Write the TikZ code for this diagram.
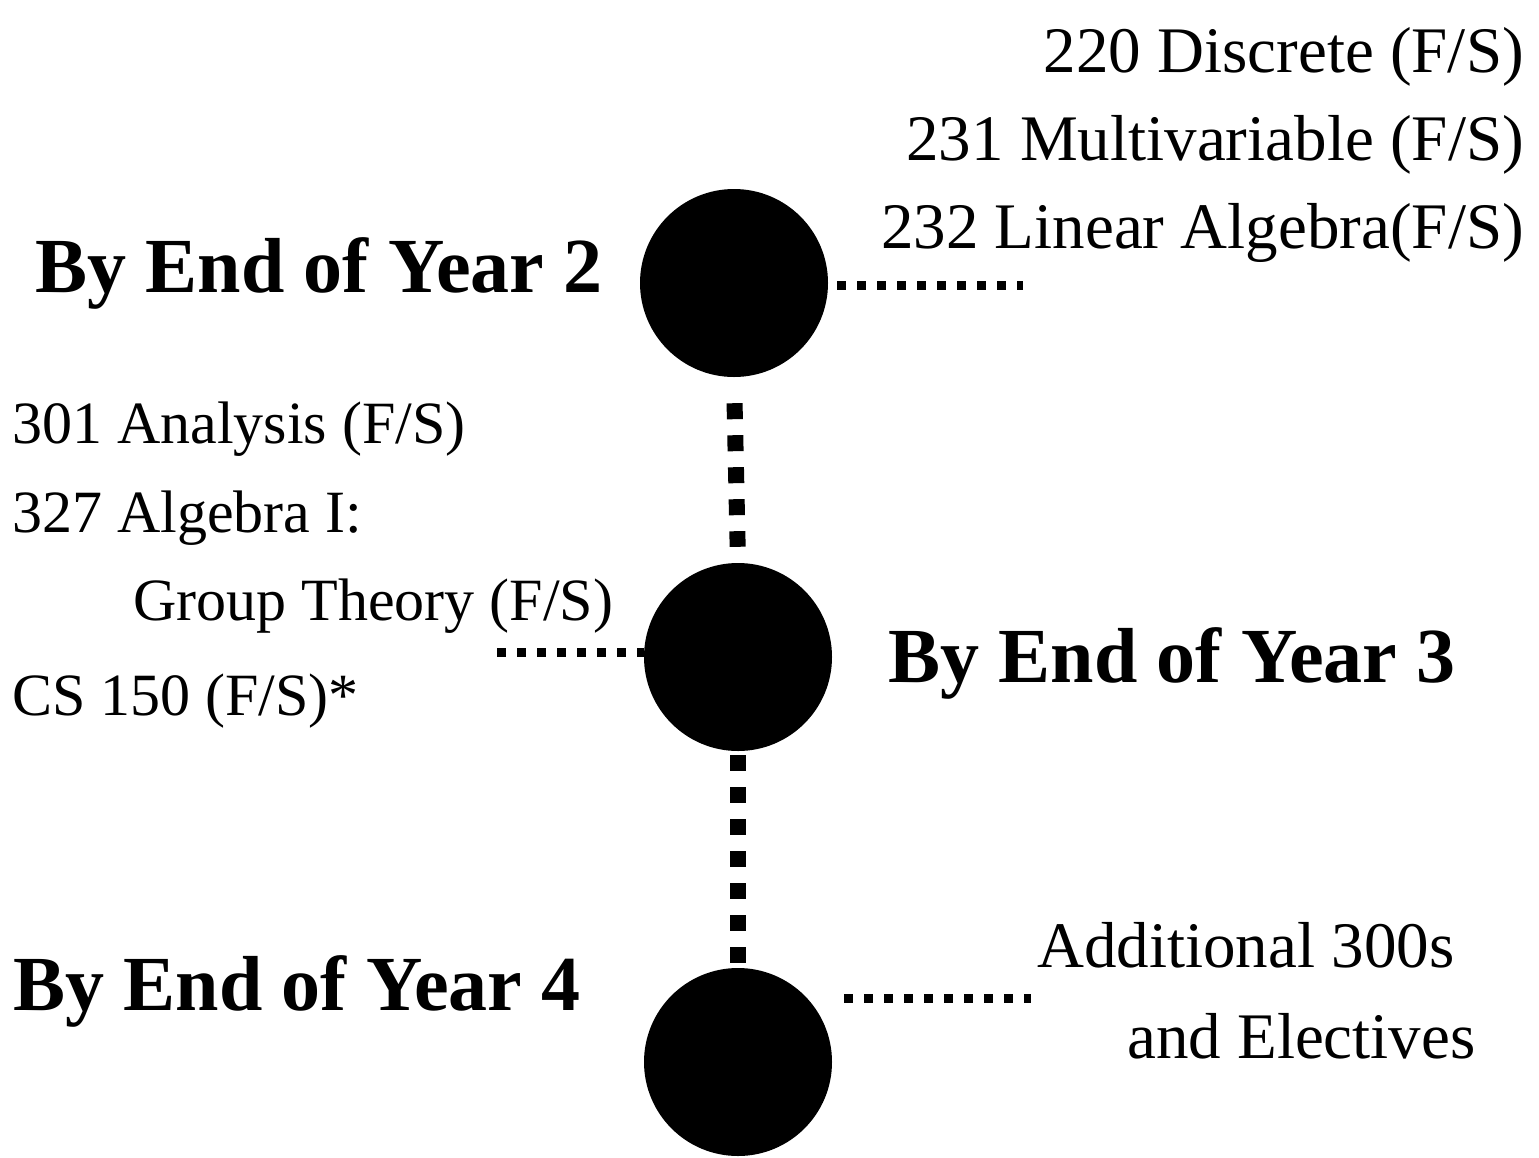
\documentclass[tikz,border=0pt]{standalone}
\usepackage{fontspec}
\setmainfont{Liberation Serif}
\usepackage{tikz}

\tikzset{
  blob/.style={circle, fill=black, minimum size=188pt, inner sep=0pt},
  course/.style={font=\fontsize{65}{78}\selectfont, inner sep=0pt},
  leftcourse/.style={font=\fontsize{60}{72}\selectfont, inner sep=0pt, anchor=base west},
  heading/.style={font=\fontsize{78}{92}\selectfont\bfseries, inner sep=0pt, anchor=base west},
  vdots/.style={line width=16pt, dash pattern=on 16pt off 16pt},
  hdots/.style={line width=9pt, dash pattern=on 9pt off 11pt},
}

\begin{document}
\begin{tikzpicture}[x=1pt,y=-1pt]
\useasboundingbox (0,0) rectangle (1539,1157);

% the three years
\foreach \n/\x/\y in {y2/734/283, y3/738/657, y4/738/1062} {
	\node[blob] (\n) at (\x,\y) {};
}
\draw[vdots, shorten <=26pt, shorten >=16pt] (y2.south) -- (y3.north);
\draw[vdots, shorten <=4pt, shorten >=5pt] (y3.south) -- (y4.north);

% headings
\node[heading] (h2) at (35,292) {By End of Year 2};
\node[heading] (h3) at (888,682) {By End of Year 3};
\node[heading] (h4) at (13,1010) {By End of Year 4};

% year 2 courses
\foreach \t/\y [count=\i] in {{220 Discrete (F/S)}/72, {231 Multivariable (F/S)}/160, {232 Linear Algebra(F/S)}/248} {
	\node[course, anchor=base east] (r\i) at (1524,\y) {\t};
}
\coordinate (e2) at (1023,285);
\draw[hdots, shorten <=9pt] (y2.east |- e2) -- (e2);

% year 3 courses
\node[leftcourse] (l1) at (12,443) {301 Analysis (F/S)};
\node[leftcourse] (l2) at (12,532) {327 Algebra I:};
\node[leftcourse] (l3) at (133,620) {Group Theory (F/S)};
\node[leftcourse] (l4) at (12,715) {CS 150 (F/S)*};
\coordinate (e3) at (497,652);
\draw[hdots] (e3) -- (y3.west |- e3);

% year 4 courses
\node[course, anchor=base west] (a1) at (1037,967) {Additional 300s};
\node[course, anchor=base west] (a2) at (1127,1058) {and Electives};
\coordinate (e4) at (1031,998);
\draw[hdots, shorten <=12pt] (y4.east |- e4) -- (e4);

\end{tikzpicture}
\end{document}
